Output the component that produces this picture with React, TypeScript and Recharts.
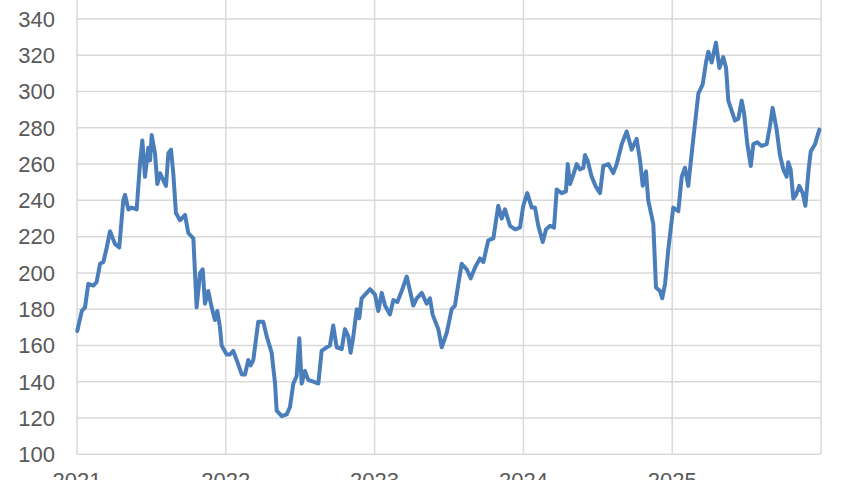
import React from "react";
import { LineChart, Line, XAxis, YAxis, CartesianGrid } from "recharts";

// time in decimal years
const times: number[] = [
  2021.002, 2021.032, 2021.054, 2021.076, 2021.11, 2021.132, 2021.155, 2021.177, 2021.2, 2021.222,
  2021.255, 2021.284, 2021.311, 2021.323, 2021.345, 2021.368, 2021.401, 2021.423, 2021.439, 2021.457,
  2021.479, 2021.491, 2021.502, 2021.524, 2021.54, 2021.558, 2021.58, 2021.598, 2021.614, 2021.632,
  2021.647, 2021.665, 2021.692, 2021.726, 2021.748, 2021.782, 2021.804, 2021.827, 2021.845, 2021.86,
  2021.882, 2021.905, 2021.927, 2021.943, 2021.961, 2021.972, 2022.006, 2022.028, 2022.05, 2022.073,
  2022.107, 2022.129, 2022.151, 2022.167, 2022.185, 2022.218, 2022.252, 2022.275, 2022.308, 2022.331,
  2022.342, 2022.376, 2022.409, 2022.431, 2022.454, 2022.476, 2022.494, 2022.51, 2022.532, 2022.554,
  2022.588, 2022.622, 2022.644, 2022.678, 2022.7, 2022.722, 2022.745, 2022.779, 2022.801, 2022.823,
  2022.839, 2022.857, 2022.88, 2022.897, 2022.913, 2022.947, 2022.969, 2023.003, 2023.025, 2023.048,
  2023.07, 2023.103, 2023.126, 2023.153, 2023.182, 2023.216, 2023.238, 2023.26, 2023.283, 2023.317,
  2023.35, 2023.372, 2023.39, 2023.428, 2023.451, 2023.485, 2023.518, 2023.54, 2023.563, 2023.585,
  2023.619, 2023.646, 2023.675, 2023.708, 2023.731, 2023.764, 2023.798, 2023.831, 2023.854, 2023.876,
  2023.91, 2023.944, 2023.977, 2023.999, 2024.026, 2024.056, 2024.078, 2024.1, 2024.13, 2024.152,
  2024.179, 2024.206, 2024.224, 2024.257, 2024.286, 2024.298, 2024.313, 2024.335, 2024.358, 2024.38,
  2024.403, 2024.414, 2024.431, 2024.459, 2024.484, 2024.515, 2024.537, 2024.571, 2024.604, 2024.627,
  2024.661, 2024.694, 2024.728, 2024.761, 2024.784, 2024.802, 2024.824, 2024.839, 2024.873, 2024.891,
  2024.918, 2024.933, 2024.952, 2024.974, 2025.007, 2025.041, 2025.064, 2025.086, 2025.108, 2025.131,
  2025.176, 2025.205, 2025.227, 2025.243, 2025.265, 2025.294, 2025.317, 2025.343, 2025.362, 2025.377,
  2025.422, 2025.444, 2025.467, 2025.483, 2025.505, 2025.528, 2025.545, 2025.572, 2025.601, 2025.635,
  2025.657, 2025.675, 2025.702, 2025.724, 2025.747, 2025.769, 2025.78, 2025.796, 2025.814, 2025.832,
  2025.854, 2025.877, 2025.895, 2025.917, 2025.931, 2025.96, 2025.989,
];

const values: number[] = [
  168, 179, 181, 194, 193, 195, 205, 206, 214, 223,
  216, 214, 240, 243, 235, 236, 235, 260, 273, 253,
  269, 262, 276, 266, 249, 255, 251, 248, 266, 268,
  255, 233, 229, 232, 222, 219, 181, 200, 202, 183,
  190, 181, 174, 179, 170, 160, 155, 155, 157, 152,
  144, 144, 152, 149, 152, 173, 173, 165, 156, 139,
  124, 121, 122, 126, 139, 143, 164, 139, 146, 141,
  140, 139, 157, 159, 160, 171, 159, 158, 169, 165,
  156, 165, 180, 175, 186, 189, 191, 188, 179, 189,
  182, 177, 185, 184, 190, 198, 190, 182, 186, 189,
  183, 186, 177, 169, 159, 167, 180, 182, 194, 205,
  202, 197, 203, 208, 206, 218, 219, 237, 230, 235,
  226, 224, 225, 237, 244, 236, 236, 226, 217, 224,
  226, 225, 246, 244, 245, 260, 249, 254, 260, 257,
  258, 265, 262, 253, 248, 244, 259, 260, 255, 260,
  271, 278, 268, 274, 262, 248, 256, 240, 227, 192,
  190, 186, 194, 213, 236, 234, 253, 258, 248, 266,
  299, 304, 316, 322, 316, 327, 313, 319, 313, 295,
  284, 285, 295, 288, 271, 259, 271, 272, 270, 271,
  281, 291, 279, 265, 257, 253, 261, 257, 241, 243,
  248, 244, 237, 257, 267, 271, 279,
];

const xTicks: number[] = [2021, 2022, 2023, 2024, 2025];
const yTicks: number[] = [100, 120, 140, 160, 180, 200, 220, 240, 260, 280, 300, 320, 340, 360];

const data = times.map((t, i) => ({ t, v: values[i] }));

const tickStyle = { fontSize: 22, fill: "#595959", fontFamily: "'Liberation Sans', Arial, sans-serif" };

export default function App() {
  return (
    <div style={{ position: "absolute", left: 0, top: 0, width: 850, height: 480, overflow: "hidden", background: "#fff" }}>
      <div style={{ position: "absolute", left: 0, top: -40 }}>
        <LineChart width={850} height={560} data={data} margin={{ top: 22.75, right: 29, bottom: 25.75, left: 0 }}>
          <CartesianGrid stroke="#d9d9d9" strokeWidth={1.5} />
          <XAxis
            dataKey="t"
            type="number"
            domain={[2021, 2026]}
            ticks={xTicks}
            axisLine={false}
            tickLine={false}
            tickSize={0}
            tickMargin={18}
            height={40}
            tick={tickStyle}
            interval={0}
          />
          <YAxis
            type="number"
            domain={[100, 360]}
            ticks={yTicks}
            axisLine={false}
            tickLine={false}
            tickSize={0}
            tickMargin={22}
            width={77}
            tick={tickStyle}
            interval={0}
          />
          <Line
            type="linear"
            dataKey="v"
            stroke="#4a7ebb"
            strokeWidth={4}
            dot={false}
            strokeLinejoin="round"
            strokeLinecap="round"
            isAnimationActive={false}
          />
        </LineChart>
      </div>
    </div>
  );
}
